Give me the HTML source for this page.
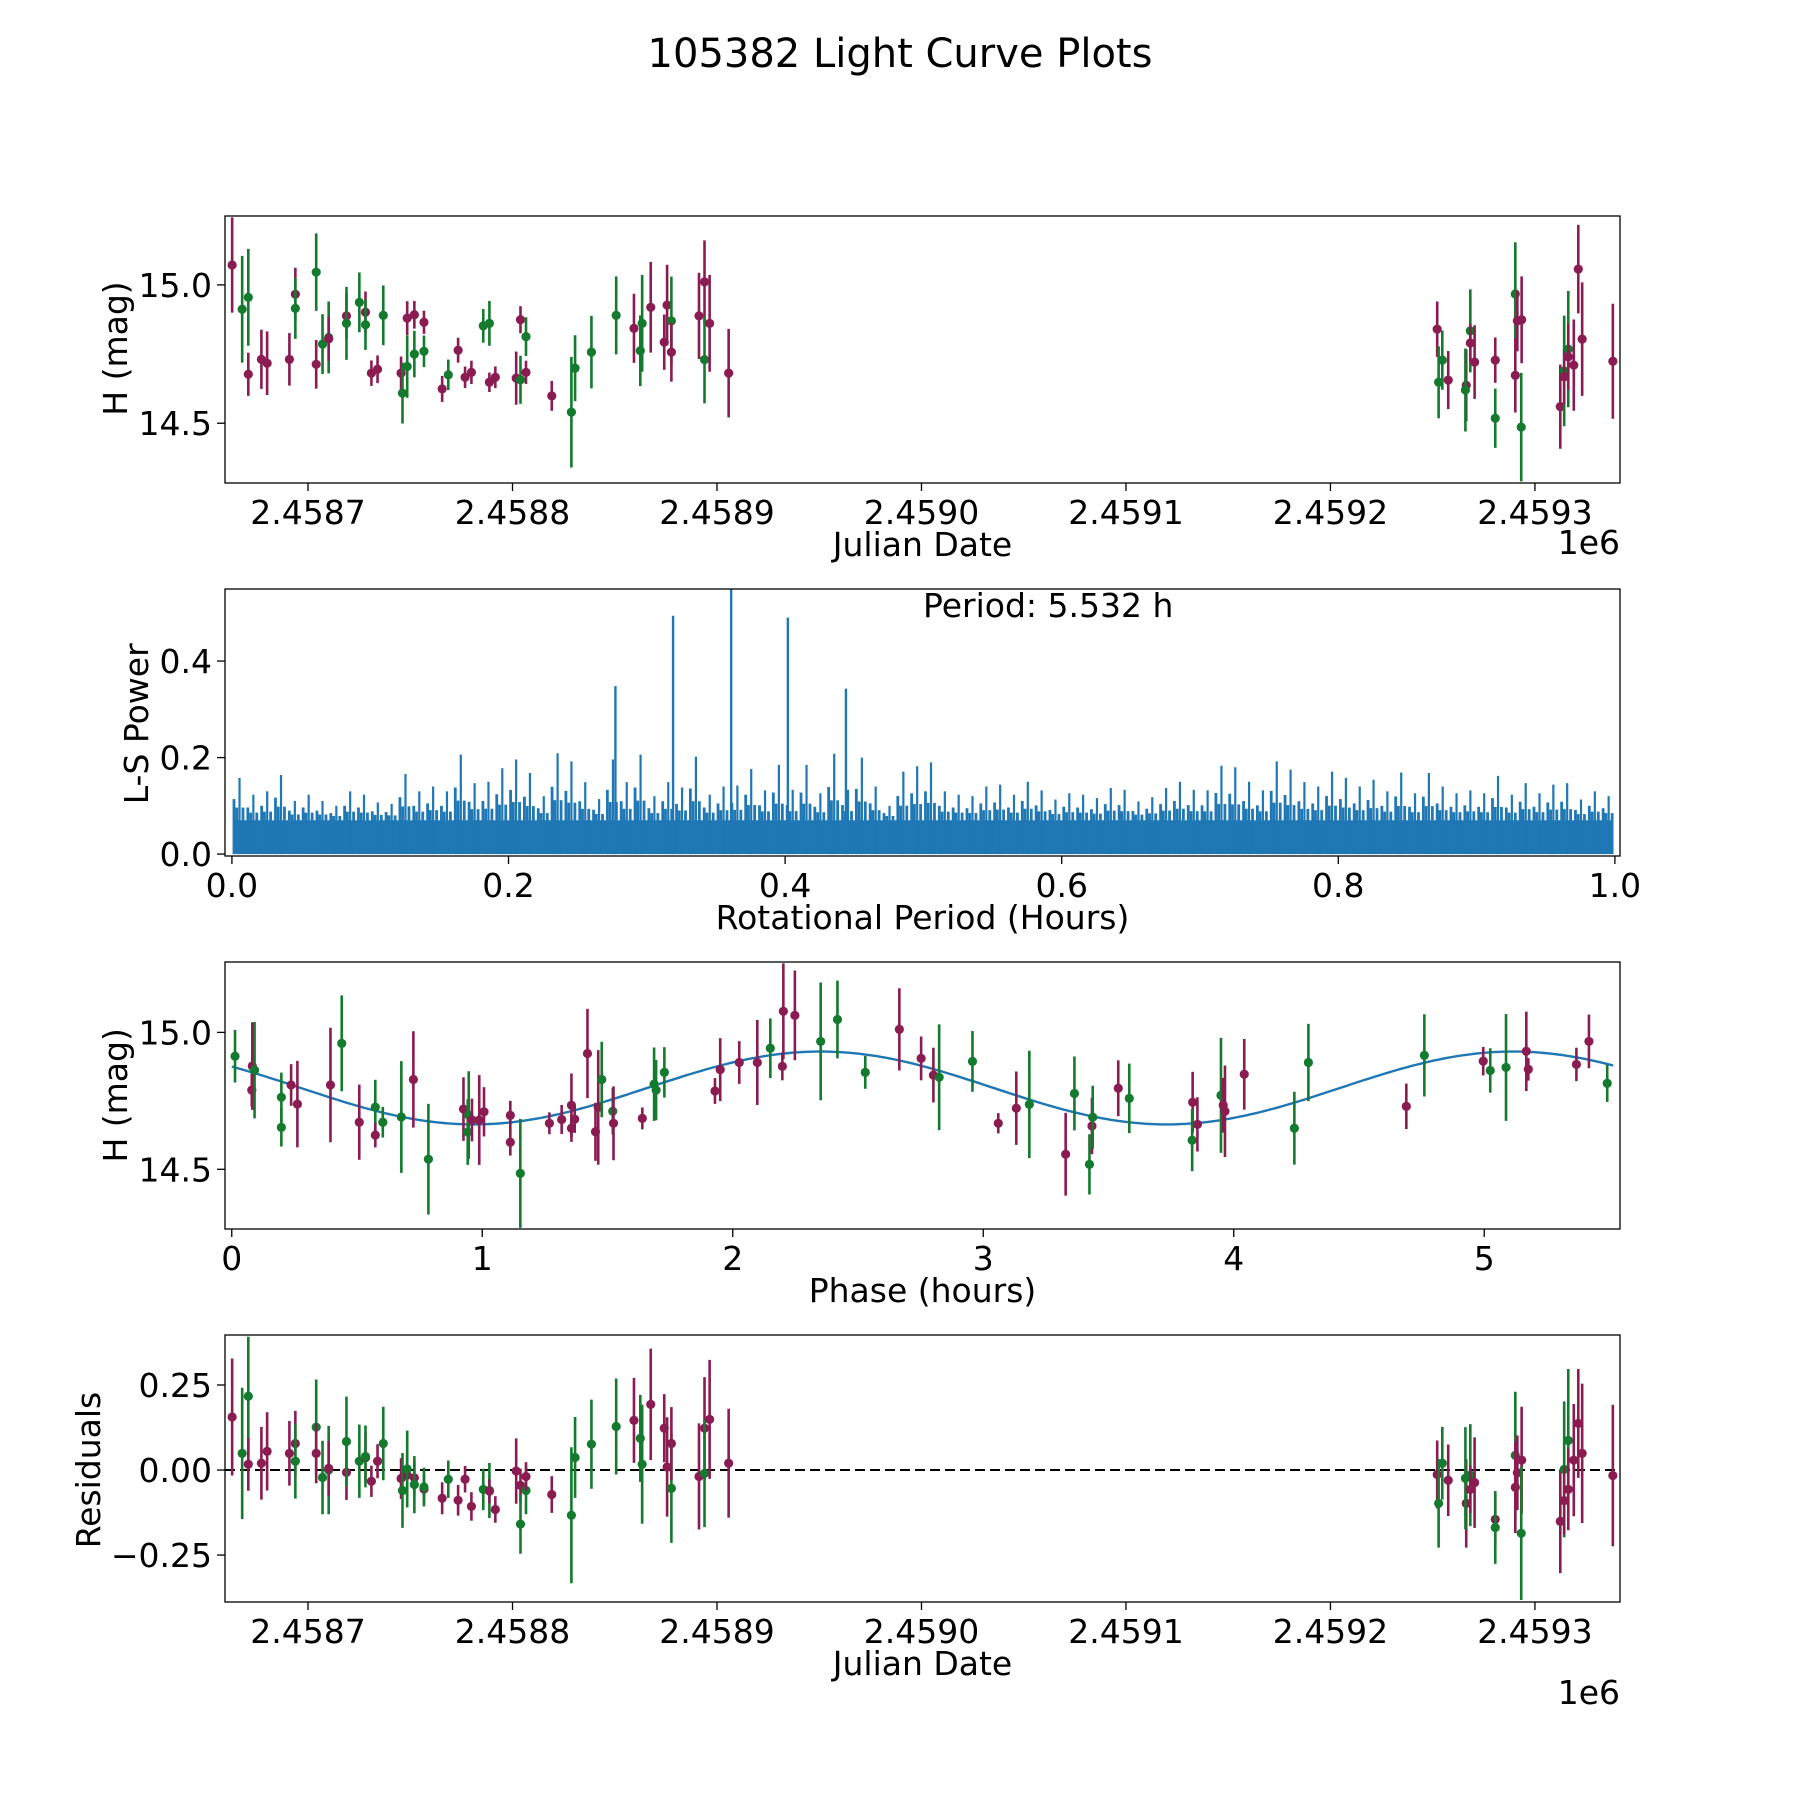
<!DOCTYPE html>
<html><head><meta charset="utf-8"><title>105382 Light Curve Plots</title>
<style>
html,body{margin:0;padding:0;background:#fff;}
svg{display:block;font-family:"DejaVu Sans","Liberation Sans",sans-serif;}
</style></head>
<body>
<svg id="fig" xmlns="http://www.w3.org/2000/svg" width="1800" height="1800" viewBox="0 0 1800 1800">
<rect x="0" y="0" width="1800" height="1800" fill="#fff"/>
<defs>
<clipPath id="c1"><rect x="225" y="216" width="1395" height="267"/></clipPath>
<clipPath id="c2"><rect x="225" y="589" width="1395" height="267"/></clipPath>
<clipPath id="c3"><rect x="225" y="962" width="1395" height="267"/></clipPath>
<clipPath id="c4"><rect x="225" y="1335" width="1395" height="267"/></clipPath>
</defs>
<text x="900" y="67" font-size="40" text-anchor="middle">105382 Light Curve Plots</text>
<g id="p1"></g>
<g id="p2"></g>
<g id="p3"></g>
<g id="p4"></g>
</svg>
<script>
// ---- data: light curve vs date (days offset from JD 2458700) ----
const jdOffset = [-37.1,-32.2,-29.2,-29.2,-22.8,-20.0,-9.1,-6.2,-6.2,4.0,4.0,7.1,10.1,10.1,18.8,18.8,25.1,28.1,28.1,31.0,34.0,36.8,45.5,46.2,48.5,48.5,52.0,52.0,56.7,56.7,65.6,68.6,73.4,76.8,79.9,85.7,88.7,88.7,91.6,101.8,103.9,103.9,106.6,106.6,119.2,128.8,130.6,138.6,150.7,159.4,162.5,163.4,167.6,174.2,175.6,177.7,177.7,191.2,193.9,193.9,196.4,205.7,
552.2,552.9,554.7,557.6,566.4,566.0,568.4,568.4,570.5,580.6,580.6,590.4,590.4,591.4,593.5,593.3,612.4,614.3,614.3,616.3,616.3,619.0,621.2,623.1,638.1];
const magH = [15.072,14.912,14.955,14.677,14.731,14.717,14.731,14.966,14.915,15.046,14.713,14.786,14.81,14.805,14.888,14.861,14.937,14.901,14.856,14.681,14.695,14.89,14.681,14.609,14.88,14.705,14.892,14.75,14.865,14.76,14.624,14.675,14.764,14.666,14.684,14.852,14.861,14.648,14.666,14.663,14.874,14.657,14.813,14.684,14.599,14.54,14.699,14.757,14.89,14.843,14.762,14.861,14.919,14.793,14.927,14.87,14.757,14.888,15.011,14.73,14.861,14.681,
14.84,14.648,14.728,14.656,14.637,14.62,14.834,14.79,14.721,14.728,14.518,14.967,14.673,14.87,14.874,14.486,14.56,14.689,14.668,14.768,14.74,14.71,15.057,14.804,14.724];
const magErr = [0.172,0.193,0.175,0.078,0.107,0.115,0.095,0.096,0.11,0.14,0.088,0.108,0.13,0.08,0.081,0.132,0.108,0.075,0.091,0.046,0.05,0.108,0.06,0.11,0.061,0.113,0.05,0.084,0.042,0.057,0.047,0.055,0.045,0.039,0.042,0.061,0.081,0.035,0.039,0.096,0.049,0.087,0.07,0.042,0.054,0.2,0.119,0.131,0.141,0.125,0.128,0.175,0.164,0.1,0.146,0.16,0.107,0.156,0.15,0.158,0.175,0.16,
0.1,0.13,0.107,0.105,0.13,0.15,0.15,0.07,0.133,0.082,0.107,0.187,0.134,0.11,0.157,0.196,0.152,0.2,0.1,0.21,0.12,0.165,0.16,0.205,0.208];
const band = ['p','g','g','p','p','p','p','p','g','g','p','g','g','p','p','g','g','p','g','p','p','g','p','g','p','g','p','g','p','g','p','g','p','p','p','g','g','p','p','p','p','g','g','p','p','g','g','g','g','p','g','g','p','p','p','g','p','p','p','g','p','p',
'p','g','g','p','p','g','g','p','p','p','g','g','p','p','p','g','p','g','p','g','p','p','p','p','p'];
const residual = [0.156,0.049,0.217,0.017,0.02,0.055,0.049,0.078,0.026,0.126,0.049,-0.022,0.0,0.005,-0.007,0.084,0.026,0.036,0.04,-0.033,0.026,0.078,-0.025,-0.06,-0.015,0.003,-0.023,-0.043,-0.056,-0.05,-0.083,-0.027,-0.089,-0.027,-0.107,-0.057,-0.06,-0.062,-0.116,-0.003,-0.045,-0.159,-0.06,-0.019,-0.072,-0.133,0.037,0.076,0.128,0.146,0.093,0.017,0.193,0.123,0.009,-0.054,0.078,-0.019,0.123,-0.01,0.149,0.02,
-0.013,-0.098,0.02,-0.03,-0.098,-0.024,-0.015,-0.057,-0.037,-0.145,-0.169,0.043,-0.051,-0.008,0.029,-0.186,-0.151,0.002,-0.09,0.087,-0.057,0.029,0.137,0.049,-0.016];
const jdTicks = [0,100,200,300,400,500,600];
const jdTickLabels = ['2.4587','2.4588','2.4589','2.4590','2.4591','2.4592','2.4593'];

// ---- data: phase folded ----
const phase = [0.013,0.082,0.080,0.091,0.198,0.198,0.237,0.262,0.394,0.439,0.509,0.573,0.573,0.603,0.677,0.725,0.785,0.925,0.946,0.942,0.959,0.988,1.007,1.112,1.112,1.152,1.268,1.317,1.356,1.356,1.369,1.42,1.452,1.463,1.477,1.521,1.524,1.639,1.686,1.694,1.727,1.929,1.95,2.026,2.098,2.15,2.198,2.202,2.248,2.351,2.418,2.529,2.665,2.752,2.801,2.824,2.957,3.06,3.132,3.184,3.329,3.364,3.424,3.434,3.437,3.539,3.583,3.836,3.834,3.855,3.949,3.958,3.965,4.042,4.242,4.298,4.689,4.761,4.996,5.024,5.087,5.168,5.176,5.368,5.418,5.491];
const phaseMag = [14.913,14.877,14.789,14.862,14.763,14.653,14.808,14.738,14.808,14.96,14.672,14.727,14.625,14.672,14.691,14.828,14.537,14.72,14.698,14.636,14.68,14.68,14.71,14.697,14.599,14.485,14.668,14.682,14.734,14.65,14.683,14.923,14.637,14.726,14.828,14.712,14.668,14.686,14.811,14.789,14.854,14.786,14.864,14.89,14.89,14.942,14.876,15.077,15.062,14.967,15.047,14.854,15.011,14.905,14.844,14.836,14.894,14.668,14.723,14.737,14.555,14.777,14.518,14.658,14.69,14.796,14.759,14.745,14.606,14.664,14.77,14.734,14.712,14.847,14.65,14.89,14.73,14.916,14.895,14.861,14.872,14.931,14.865,14.883,14.967,14.814];
const phaseErr = [0.096,0.16,0.06,0.176,0.09,0.07,0.076,0.158,0.209,0.175,0.137,0.1,0.045,0.056,0.204,0.176,0.202,0.116,0.16,0.12,0.078,0.164,0.09,0.053,0.049,0.199,0.04,0.053,0.116,0.05,0.05,0.163,0.106,0.209,0.138,0.085,0.135,0.04,0.134,0.11,0.092,0.047,0.115,0.078,0.155,0.109,0.051,0.175,0.164,0.215,0.142,0.06,0.15,0.08,0.1,0.193,0.111,0.037,0.134,0.196,0.151,0.135,0.11,0.103,0.115,0.102,0.127,0.111,0.113,0.099,0.21,0.1,0.167,0.129,0.133,0.141,0.083,0.15,0.052,0.081,0.195,0.145,0.041,0.061,0.098,0.068];
const phaseBand = ['g','p','p','g','g','g','p','p','p','g','p','g','p','g','g','p','g','p','g','g','p','p','p','p','p','g','p','p','p','p','p','p','p','p','g','g','p','p','g','g','g','p','p','p','p','g','p','p','p','g','g','g','p','p','p','g','g','p','p','g','p','g','g','p','g','p','g','p','g','p','g','p','p','p','g','g','p','g','p','g','g','p','p','p','p','g'];
const modelParams = [14.797, 0.133, 2.35, 5.532]; // mean, amplitude, peak phase, period (h)
const phaseTicks = [0,1,2,3,4,5];

// ---- data: Lomb-Scargle periodogram ----
const lsBinMax = [0.158,0.123,0.13,0.164,0.11,0.123,0.11,0.1,0.13,0.123,0.107,0.104,0.166,0.13,0.14,0.13,0.206,0.147,0.15,0.178,0.196,0.168,0.12,0.209,0.192,0.149,0.114,0.196,0.149,0.206,0.12,0.149,0.138,0.202,0.123,0.14,0.142,0.176,0.132,0.185,0.133,0.185,0.126,0.208,0.133,0.2,0.14,0.1,0.171,0.182,
0.19,0.13,0.123,0.12,0.14,0.144,0.123,0.15,0.132,0.113,0.126,0.123,0.116,0.137,0.133,0.109,0.118,0.137,0.15,0.133,0.132,0.183,0.18,0.15,0.132,0.192,0.175,0.149,0.14,0.171,0.158,0.14,0.154,0.13,0.169,0.126,0.168,0.14,0.126,0.132,0.126,0.162,0.123,0.147,0.126,0.144,0.147,0.113,0.13,0.12];
const lsPeakPeriod = [0.2773,0.319,0.361,0.402,0.444];
const lsPeakPower = [0.348,0.494,0.60,0.49,0.343];
const lsFloor = 0.07;
const periodTicks = [0,0.2,0.4,0.6,0.8,1.0];
const powerTicks = [0,0.2,0.4];
const residTicks = [0.25,0,-0.25];
const residTickLabels = ['0.25','0.00','\u22120.25'];

const NS='http://www.w3.org/2000/svg';
const PURPLE='#8a1c52', GREEN='#137a2e', BLUE='#1f77b4';
const FS=33;
function mk(parent, tag, attrs, txt){
  const e=document.createElementNS(NS,tag);
  for(const k in attrs) e.setAttribute(k,attrs[k]);
  if(txt!==undefined) e.textContent=txt;
  parent.appendChild(e); return e;
}
const X0=225,X1=1620;
function lin(d0,d1,r0,r1){return v=>r0+(v-d0)/(d1-d0)*(r1-r0);}
const jdX=lin(-40.6,641.6,X0,X1);
const p1Y=lin(14.284,15.249,483,216);
const powX=lin(-0.005,1.0037,X0,X1);
const powY=lin(-0.004,0.5494,856,589);
const phX=lin(-0.027,5.542,X0,X1);
const p3Y=lin(14.282,15.257,1229,962);
const resY=lin(-0.388,0.397,1602,1335);

function frame(g,top){
  const r=mk(g,'rect',{x:X0,y:top,width:X1-X0,height:267,fill:'none',stroke:'#000','stroke-width':1.3});
  
  
}
function xtick(g,x,bottom,label){
  const t=mk(g,'line',{x1:x,x2:x,y1:bottom,y2:bottom+8,stroke:'#000','stroke-width':1.3});
  
  
  const l=mk(g,'text',{x:x,y:bottom+41,'font-size':FS,'text-anchor':'middle'},label);
  
  
}
function ytick(g,y,label){
  const t=mk(g,'line',{x1:X0-8,x2:X0,y1:y,y2:y,stroke:'#000','stroke-width':1.3});
  
  
  const l=mk(g,'text',{x:X0-13,y:y+12,'font-size':FS,'text-anchor':'end'},label);
  
  
}
function xlabel(g,y,txt,name){
  const l=mk(g,'text',{x:(X0+X1)/2,y:y,'font-size':FS,'text-anchor':'middle'},txt);
  
  
}
function ylabel(g,x,cy,txt,name){
  const l=mk(g,'text',{x:x,y:cy,'font-size':FS,'text-anchor':'middle',transform:'rotate(-90 '+x+' '+cy+')'},txt);
  
  
}
function offsetLabel(g,y){
  const l=mk(g,'text',{x:X1,y:y,'font-size':FS,'text-anchor':'end'},'1e6');
  
  
}
function errpoint(g,x,yc,ylo,yhi,color){
  const ln=mk(g,'line',{x1:x,x2:x,y1:ylo,y2:yhi,stroke:color,'stroke-width':2.6});
  
  
  const c=mk(g,'circle',{cx:x,cy:yc,r:4.6,fill:color});
  
  
}

// ---------- Panel 1 ----------
const g1=document.getElementById('p1');
const d1=mk(g1,'g',{'clip-path':'url(#c1)'});


for(let i=0;i<jdOffset.length;i++){
  const col=band[i]==='p'?PURPLE:GREEN;
  errpoint(d1,jdX(jdOffset[i]),p1Y(magH[i]),p1Y(magH[i]-magErr[i]),p1Y(magH[i]+magErr[i]),col);
}
frame(g1,216);
jdTicks.forEach((t,i)=>xtick(g1,jdX(t),483,jdTickLabels[i]));
[14.5,15.0].forEach(v=>ytick(g1,p1Y(v),v.toFixed(1)));
xlabel(g1,556,'Julian Date','x-axis-title-date');
offsetLabel(g1,554);
ylabel(g1,127,p1Y(14.77),'H (mag)','y-axis-title-mag');

// ---------- Panel 2 ----------
const g2=document.getElementById('p2');
const d2=mk(g2,'g',{'clip-path':'url(#c2)'});


const fl=mk(d2,'rect',{x:powX(0.001),y:powY(lsFloor),width:powX(0.999)-powX(0.001),height:powY(0)-powY(lsFloor),fill:BLUE});


for(let i=0;i<lsBinMax.length;i++){
  const binStart=i/lsBinMax.length, binW=1/lsBinMax.length;
  [0.15,0.35,0.55,0.8].forEach((f,k)=>{
    const v=k===2?lsBinMax[i]:lsFloor+(lsBinMax[i]-lsFloor)*(k===0?0.5:0.3);
    const x=powX(binStart+binW*f);
    const s=mk(d2,'line',{x1:x,x2:x,y1:powY(0),y2:powY(v),stroke:BLUE,'stroke-width':k===2?2.2:2.8});
    
    
  });
}
for(let i=0;i<lsPeakPeriod.length;i++){
  const x=powX(lsPeakPeriod[i]);
  const s=mk(d2,'line',{x1:x,x2:x,y1:powY(0),y2:powY(lsPeakPower[i]),stroke:BLUE,'stroke-width':2.4});
  
  
}
frame(g2,589);
periodTicks.forEach(t=>xtick(g2,powX(t),856,t.toFixed(1)));
powerTicks.forEach(v=>ytick(g2,powY(v),v.toFixed(1)));
xlabel(g2,929,'Rotational Period (Hours)','x-axis-title-period');
ylabel(g2,148,powY(0.27),'L-S Power','y-axis-title-power');
const pt=mk(g2,'text',{x:923,y:617,'font-size':FS},'Period: 5.532 h');



// ---------- Panel 3 ----------
const g3=document.getElementById('p3');
const d3=mk(g3,'g',{'clip-path':'url(#c3)'});


let path='';
for(let k=0;k<=300;k++){
  const p=5.515*k/300;
  const m=modelParams[0]+modelParams[1]*Math.cos(4*Math.PI*(p-modelParams[2])/modelParams[3]);
  path+=(k?'L':'M')+phX(p).toFixed(1)+' '+p3Y(m).toFixed(1);
}
const mc=mk(d3,'path',{d:path,fill:'none',stroke:BLUE,'stroke-width':2.4});


for(let i=0;i<phase.length;i++){
  const col=phaseBand[i]==='p'?PURPLE:GREEN;
  errpoint(d3,phX(phase[i]),p3Y(phaseMag[i]),p3Y(phaseMag[i]-phaseErr[i]),p3Y(phaseMag[i]+phaseErr[i]),col);
}
frame(g3,962);
phaseTicks.forEach(t=>xtick(g3,phX(t),1229,String(t)));
[14.5,15.0].forEach(v=>ytick(g3,p3Y(v),v.toFixed(1)));
xlabel(g3,1302,'Phase (hours)','x-axis-title-phase');
ylabel(g3,127,p3Y(14.77),'H (mag)','y-axis-title-mag-phase');

// ---------- Panel 4 ----------
const g4=document.getElementById('p4');
const d4=mk(g4,'g',{'clip-path':'url(#c4)'});


const zl=mk(d4,'line',{x1:X0,x2:X1,y1:resY(0),y2:resY(0),stroke:'#000','stroke-width':2,'stroke-dasharray':'10 5'});


for(let i=0;i<jdOffset.length;i++){
  const col=band[i]==='p'?PURPLE:GREEN;
  errpoint(d4,jdX(jdOffset[i]),resY(residual[i]),resY(residual[i]-magErr[i]),resY(residual[i]+magErr[i]),col);
}
frame(g4,1335);
jdTicks.forEach((t,i)=>xtick(g4,jdX(t),1602,jdTickLabels[i]));
residTicks.forEach((v,i)=>ytick(g4,resY(v),residTickLabels[i]));
xlabel(g4,1675,'Julian Date','x-axis-title-date-residuals');
offsetLabel(g4,1704);
ylabel(g4,100,resY(0),'Residuals','y-axis-title-residuals');
</script>
</body></html>
